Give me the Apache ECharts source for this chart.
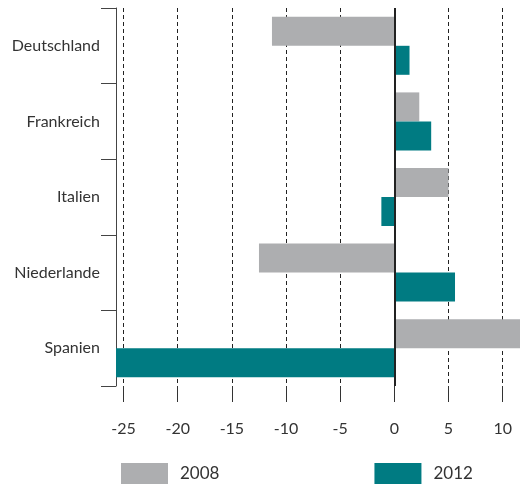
<!DOCTYPE html>
<html>
<head>
<meta charset="utf-8">
<script src="https://cdn.jsdelivr.net/npm/echarts@6/dist/echarts.min.js"></script>
<style>
  html, body { margin: 0; padding: 0; background: #fff; }
  #chart { width: 520px; height: 484px; }
</style>
</head>
<body>
<div id="chart"></div>
<script>
// Länder (von oben nach unten)
const countries = ['Deutschland', 'Frankreich', 'Italien', 'Niederlande', 'Spanien'];
const values2008 = [-11.3, 2.3, 5.0, -12.5, 12.5];
const values2012 = [1.4, 3.4, -1.2, 5.6, -27.0];
const seriesNames = ['2008', '2012'];
const xTicks = [-25, -20, -15, -10, -5, 0, 5, 10];

const FONT = 'Lato, "Open Sans", sans-serif';
const GRAY = '#adaeb0';
const TEAL = '#007b82';

const chart = echarts.init(document.getElementById('chart'));

chart.setOption({
  animation: false,
  grid: {
    left: 116,
    right: 0,
    top: 8,
    bottom: 98,
    outerBoundsMode: 'none'
  },
  legend: {
    data: seriesNames,
    left: 121,
    top: 463,
    padding: 0,
    icon: 'rect',
    itemWidth: 47,
    itemHeight: 21,
    itemGap: 155,
    textStyle: { fontFamily: FONT, fontSize: 17, color: '#333', padding: [0, 0, 0, 7] }
  },
  xAxis: {
    type: 'value',
    min: -25.7,
    max: 11.6,
    axisLine: { show: false },
    axisTick: {
      show: true,
      length: 16,
      customValues: xTicks,
      lineStyle: { color: '#333' }
    },
    splitLine: {
      show: true,
      lineStyle: { color: '#222', type: [4, 3], width: 1 }
    },
    axisLabel: {
      margin: 35,
      fontFamily: FONT,
      fontSize: 16,
      color: '#333',
      customValues: xTicks
    }
  },
  yAxis: {
    type: 'category',
    inverse: true,
    data: countries,
    axisLine: { show: true, onZero: false, lineStyle: { color: '#444', width: 1 } },
    axisTick: { show: true, length: 15, lineStyle: { color: '#444' } },
    axisLabel: {
      margin: 16,
      fontFamily: FONT,
      fontSize: 16,
      color: '#333'
    }
  },
  series: [
    {
      name: seriesNames[0],
      type: 'bar',
      data: values2008,
      barWidth: 29,
      barGap: '0%',
      itemStyle: { color: GRAY },
      markLine: {
        silent: true,
        symbol: 'none',
        label: { show: false },
        lineStyle: { color: '#222', width: 2, type: 'solid' },
        data: [{ xAxis: 0 }]
      }
    },
    {
      name: seriesNames[1],
      type: 'bar',
      data: values2012,
      barWidth: 29,
      barGap: '0%',
      itemStyle: { color: TEAL }
    }
  ]
});
</script>
</body>
</html>
